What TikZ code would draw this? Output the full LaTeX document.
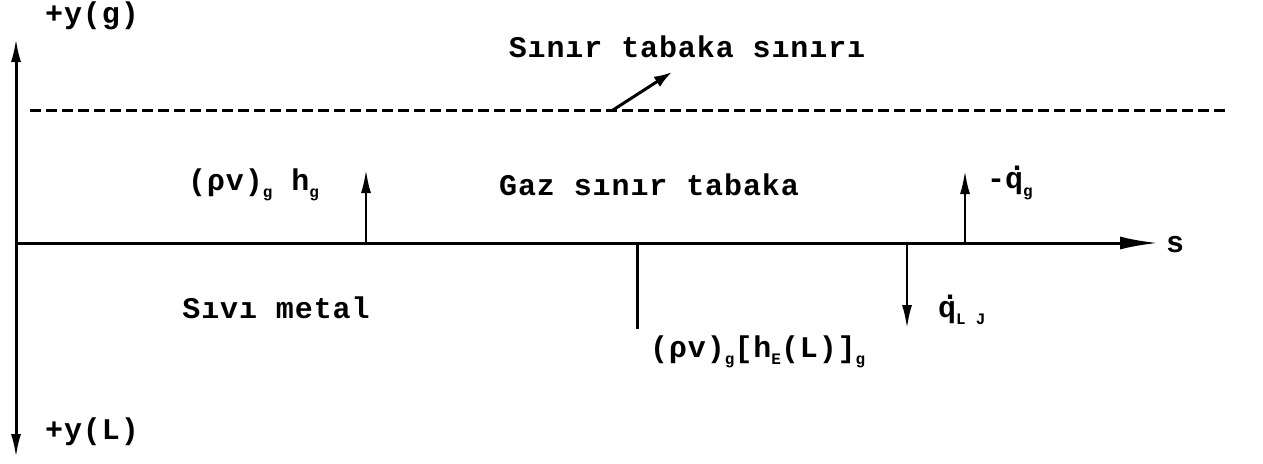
\documentclass[tikz,border=0pt]{standalone}
\usepackage{fontspec}
\usetikzlibrary{arrows.meta}
\newfontfamily\tw{Liberation Mono}[LetterSpace=3]
\newcommand{\lo}[1]{\raisebox{-0.25em}{\fontsize{16}{16}\selectfont #1}}
\newcommand{\qdot}{\rlap{\raisebox{0.6em}{\hspace{0.1em}.}}q}
\tikzset{
  lbl/.style={font=\tw\bfseries\fontsize{30}{32}\selectfont, inner sep=0pt},
  axisline/.style={line width=3pt, black},
  flux/.style={line width=2.8pt, -{Latex[length=24pt,width=10pt]}},
}
\begin{document}
\begin{tikzpicture}[x=1pt,y=-1pt]
\useasboundingbox (0,0) rectangle (1263,463);
% coordinates
\coordinate (ytop) at (16,38);
\coordinate (ybot) at (16,458);
\coordinate (o) at (16,243);
\coordinate (send) at (1158,243);
\coordinate (d1) at (30,110);
\coordinate (d2) at (1226,110);
\coordinate (p1) at (613,110);
\coordinate (p2) at (672,72);
\coordinate (a1b) at (366,243);
\coordinate (a1t) at (366,169);
\coordinate (a2b) at (965,243);
\coordinate (a2t) at (965,170);
\coordinate (t1) at (637,243);
\coordinate (t2) at (637,329);
\coordinate (b1) at (907,243);
\coordinate (b2) at (907,329);
% axes
\draw[line width=3pt, {Latex[length=24pt,width=10pt]}-{Latex[length=24pt,width=10pt]}] (ytop) -- (ybot);
\draw[axisline, -{Latex[length=38pt,width=13pt]}] (o) -- (send);
% boundary layer edge
\draw[line width=3pt, dash pattern=on 11pt off 5pt] (d1) -- (d2);
\draw[line width=3pt, -{Latex[length=18pt,width=12pt]}] (p1) -- (p2);
% fluxes
\draw[flux] (a1b) -- (a1t);
\draw[flux] (a2b) -- (a2t);
\draw[line width=3pt] (t1) -- (t2);
\draw[flux] (b1) -- (b2);
% labels
\node[lbl] (yg) at (92,16) {+y(g)};
\node[lbl] (yL) at (92,432) {+y(L)};
\node[lbl, anchor=west] (s) at (1166,245) {s};
\node[lbl] (bl) at (687,47) {Sınır tabaka sınırı};
\node[lbl] (gaz) at (649,185) {Gaz sınır tabaka};
\node[lbl, anchor=west] (rho1) at (188,185) {(ρv)\lo{g} h\lo{g}};
\node[lbl, anchor=west] (qg) at (987,183) {-\qdot\lo{g}};
\node[lbl] (sivi) at (276,308) {Sıvı metal};
\node[lbl, anchor=west] (ql) at (938,310) {\qdot\lo{L J}};
\node[lbl, anchor=west] (rho2) at (650,352) {(ρv)\lo{g}[h\lo{E}(L)]\lo{g}};
\end{tikzpicture}
\end{document}
